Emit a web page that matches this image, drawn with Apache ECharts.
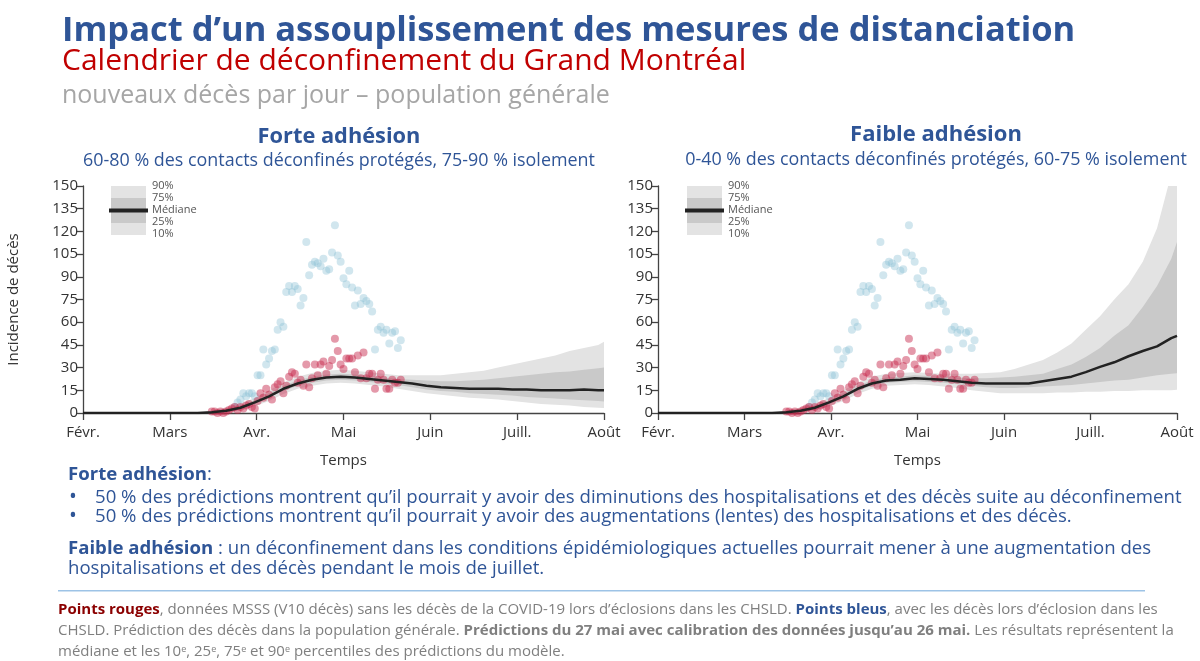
<!DOCTYPE html>
<html><head><meta charset="utf-8">
<script src="https://cdn.jsdelivr.net/npm/echarts@6/dist/echarts.min.js"></script>
<style>html,body{margin:0;padding:0;background:#fff}#c{width:1200px;height:661px}</style>
</head><body><div id="c"></div>
<script>
// ---- tick labels (x in days since Feb 1, 2020) ----
const monthLabels = ['Févr.', 'Mars', 'Avr.', 'Mai', 'Juin', 'Juill.', 'Août'];
const yTicks = [0, 15, 30, 45, 60, 75, 90, 105, 120, 135, 150];

// ---- observed points (same in both panels) ----
const redStartDay = 45;
const redValues = [1, 1, 0, 1, 0, 1, 2, 3, 4, 2, 4, 3, 5, 6, 4, 3, 8, 13, 10, 16, 12, 9, 17, 19, 21, 13, 18, 24, 27, 26,
  20, 22, 18, 32, 17, 23, 32, 25, 32, 34, 26, 31, 35, 49, 41, 32, 29, 36, 36, 36, 27, 38, 23, 40, 23, 26, 26, 16, 22, 26,
  22, 16, 16, 22, 20, 20, 22];
const blueStartDay = 53;
const blueValues = [4, 7, 9, 13, 11, 13, 13, 11, 25, 25, 42, 32, 36, 41, 42, 55, 60, 57, 80, 84, 80, 84, 82, 71, 76, 113,
  91, 98, 100, 99, 97, 102, 94, 95, 106, 124, 104, 100, 89, 85, 94, 83, 71, 81, 72, 76, 74, 72, 67, 42, 55, 57, 53, 55,
  46, 53, 54, 43, 48];

// ---- model predictions (sampled days) ----
const predDays = [0, 40, 45, 50, 55, 60, 65, 70, 75, 80, 85, 90, 95, 100, 105, 110, 115, 120, 125, 130, 135, 140, 145, 150, 155, 160, 165, 170, 175, 180, 182];

// Forte adhésion
const forteMedian = [0, 0, 0.5, 1.5, 3.5, 7, 11, 16, 19.5, 22, 23.5, 24, 23.5, 22.5, 21.5, 20.5, 19.5, 18, 17, 16.5, 16, 16, 16, 15.5, 15.5, 15, 15, 15, 15.5, 15, 15];
const forteP10 = [0, 0, 0, 0.5, 2, 4.5, 8, 12.5, 16, 18, 19.5, 20, 19.5, 18.5, 17.5, 16, 14.5, 13, 12, 11, 10, 9.5, 9, 8, 7, 6, 5.5, 5, 4, 3.5, 3.3];
const forteP25 = [0, 0, 0.2, 1, 2.8, 6, 10, 14.5, 18, 20, 21.5, 22, 21.5, 20.5, 19.5, 18.5, 17, 15.5, 14.5, 14, 13, 12.5, 12, 11.5, 10.5, 10, 9.5, 9, 8.5, 8, 7.6];
const forteP75 = [0, 0, 1, 2.5, 4.5, 8.5, 13, 18, 21.5, 24, 25.5, 26, 25.5, 24.5, 23.5, 22.5, 22, 21.5, 21, 21, 21.5, 22, 23, 24, 25, 26, 27, 27.5, 28.5, 29.5, 30];
const forteP90 = [0, 0, 1.5, 3.5, 6, 10, 15, 20, 24, 26.5, 28, 28.5, 28, 27, 26, 25, 25, 25, 25, 26, 27, 28, 30, 32, 34, 36, 38, 41, 43, 45, 47];

// Faible adhésion
const faibleMedian = [0, 0, 0.5, 1.5, 3.5, 7, 11, 16, 19.5, 21.5, 22, 23, 22.5, 22, 21, 20, 19.5, 19.5, 19.5, 19.5, 21, 22.5, 24, 27, 30.5, 33.5, 37.5, 41, 44, 49.5, 51];
const faibleP10 = [0, 0, 0, 0.5, 2, 4.5, 8, 12.5, 16, 18, 18.5, 19, 18.5, 17.5, 16.5, 15, 14, 13, 13, 13, 13, 13.5, 13.5, 14, 14, 14.5, 14.5, 15, 15, 15, 15.3];
const faibleP25 = [0, 0, 0.2, 1, 2.8, 6, 10, 14.5, 18, 20, 20.5, 21, 20.5, 20, 19, 18, 17, 16.5, 16.5, 17, 17.5, 18, 18.5, 19.5, 20.5, 21.5, 22, 23.5, 25, 26, 26.3];
const faibleP75 = [0, 0, 1, 2.5, 4.5, 8.5, 13, 18, 21.5, 23.5, 24, 25, 24.5, 24, 23.5, 23, 23, 23.5, 24, 25, 26, 29, 32, 37, 43, 51, 58, 70, 84, 102, 113];
const faibleP90 = [0, 0, 1.5, 3.5, 6, 10, 15, 20, 24, 26, 26.5, 27, 26.5, 26, 26, 26, 26.5, 27, 29, 32, 35, 40, 46, 55, 64, 75, 85, 100, 122, 158, 170];

// ---- colours / styles ----
const BLUE = '#2f5597';
const RED_TITLE = '#c00000';
const FONT = '"Open Sans", Lato, sans-serif';
const LIGHT_BAND = '#e3e3e3';
const DARK_BAND = '#c9c9c9';

const pairs = (xs, ys) => xs.map((x, i) => [x, ys[i]]);
const obs = (start, vals) => vals.map((v, i) => [start + i, v]);

function bandSeries(idx, lo, hi, color, z) {
  return {
    type: 'custom', xAxisIndex: idx, yAxisIndex: idx, clip: true, silent: true, z: z, animation: false,
    data: predDays.map((d, i) => [d, lo[i], hi[i]]),
    encode: {x: 0, y: [1, 2]},
    renderItem: function (params, api) {
      if (params.dataIndex !== 0) return null;
      const pts = [];
      for (let i = 0; i < predDays.length; i++) pts.push(api.coord([predDays[i], lo[i]]));
      for (let i = predDays.length - 1; i >= 0; i--) pts.push(api.coord([predDays[i], hi[i]]));
      return {type: 'polygon', shape: {points: pts}, style: {fill: color}};
    }
  };
}

function panelSeries(idx, med, p10, p25, p75, p90) {
  return [
    bandSeries(idx, p10, p90, LIGHT_BAND, 1),
    bandSeries(idx, p25, p75, DARK_BAND, 2),
    {type: 'scatter', xAxisIndex: idx, yAxisIndex: idx, data: obs(blueStartDay, blueValues), symbolSize: 8,
      itemStyle: {color: 'rgba(140,192,212,0.5)'}, z: 3, animation: false, silent: true},
    {type: 'scatter', xAxisIndex: idx, yAxisIndex: idx, data: obs(redStartDay, redValues), symbolSize: 8,
      itemStyle: {color: 'rgba(198,42,78,0.6)'}, z: 4, animation: false, silent: true},
    {type: 'line', xAxisIndex: idx, yAxisIndex: idx, symbol: 'none', silent: true, animation: false,
      data: pairs(predDays, med), lineStyle: {color: '#222', width: 2.5}, z: 5}
  ];
}

function xAxisDef(idx) {
  return {
    type: 'value', gridIndex: idx, min: 0, max: 182, interval: 182 / 6,
    name: 'Temps', nameLocation: 'middle', nameGap: 40,
    nameTextStyle: {fontFamily: FONT, fontSize: 15, color: '#333'},
    axisLine: {show: true, onZero: false, lineStyle: {color: '#444', width: 1.3}},
    axisTick: {show: true, length: 7, lineStyle: {color: '#444', width: 1.3}},
    axisLabel: {fontFamily: FONT, fontSize: 15, color: '#333', margin: 12,
      formatter: v => monthLabels[Math.round(v / (182 / 6))] || ''},
    splitLine: {show: false}
  };
}
function yAxisDef(idx, withName) {
  return {
    type: 'value', gridIndex: idx, min: yTicks[0], max: yTicks[yTicks.length - 1], interval: 15,
    name: withName ? 'Incidence de décès' : '', nameLocation: 'middle', nameGap: 62, nameRotate: 90,
    nameTextStyle: {fontFamily: FONT, fontSize: 15, color: '#333'},
    axisLine: {show: true, lineStyle: {color: '#444', width: 1.3}},
    axisTick: {show: true, length: 7, lineStyle: {color: '#444', width: 1.3}},
    axisLabel: {fontFamily: FONT, fontSize: 15, color: '#333', margin: 5},
    splitLine: {show: false}
  };
}

function legendBox(x0) {
  const t = (txt, y) => ({type: 'text', x: x0 + 41, y: y,
    style: {text: txt, fontFamily: FONT, fontSize: 11, fill: '#555', verticalAlign: 'middle'}});
  return [
    {type: 'rect', shape: {x: x0, y: 186, width: 35, height: 49}, style: {fill: LIGHT_BAND}},
    {type: 'rect', shape: {x: x0, y: 198, width: 35, height: 25}, style: {fill: DARK_BAND}},
    {type: 'rect', shape: {x: x0 - 2, y: 208.5, width: 39, height: 4}, style: {fill: '#222'}},
    t('90%', 186), t('75%', 198), t('Médiane', 210), t('25%', 222), t('10%', 234)
  ];
}

function txt(x, y, text, size, color, weight, align) {
  return {type: 'text', x: x, y: y, style: {text: text, fontFamily: FONT, fontSize: size, fill: color,
    fontWeight: weight || 'normal', align: align || 'left', verticalAlign: 'middle'}};
}
function rich(x, y, text, size, color, richDef) {
  return {type: 'text', x: x, y: y, style: {text: text, fontFamily: FONT, fontSize: size, fill: color,
    align: 'left', verticalAlign: 'middle', rich: richDef}};
}

const FN = 15;
const footRich = {
  r: {fontFamily: FONT, fontSize: FN, fontWeight: 'bold', fill: '#8b0000', color: '#8b0000'},
  b: {fontFamily: FONT, fontSize: FN, fontWeight: 'bold', fill: BLUE, color: BLUE},
  g: {fontFamily: FONT, fontSize: FN, fontWeight: 'bold', fill: '#7f7f7f', color: '#7f7f7f'},
  s: {fontFamily: FONT, fontSize: 9, fill: '#7f7f7f', color: '#7f7f7f', verticalAlign: 'top', padding: [0, 0, 6, 0]}
};
const BODY = 18.6;
const bodyRich = {
  h: {fontFamily: FONT, fontSize: BODY, fontWeight: 'bold', fill: BLUE, color: BLUE}
};

const option = {
  backgroundColor: '#fff',
  animation: false,
  grid: [
    {left: 83, top: 186, width: 521, height: 227},
    {left: 658, top: 186, width: 519, height: 227}
  ],
  xAxis: [xAxisDef(0), xAxisDef(1)],
  yAxis: [yAxisDef(0, true), yAxisDef(1, false)],
  series: [
    ...panelSeries(0, forteMedian, forteP10, forteP25, forteP75, forteP90),
    ...panelSeries(1, faibleMedian, faibleP10, faibleP25, faibleP75, faibleP90)
  ],
  graphic: [
    txt(62, 31, 'Impact d\u2019un assouplissement des mesures de distanciation', 34.5, BLUE, 'bold'),
    txt(62, 61, 'Calendrier de déconfinement du Grand Montréal', 30, RED_TITLE),
    txt(62, 96, 'nouveaux décès par jour – population générale', 25, '#a6a6a6'),
    txt(339, 137, 'Forte adhésion', 21.8, BLUE, 'bold', 'center'),
    txt(339, 161, '60-80 % des contacts déconfinés protégés, 75-90 % isolement', 17.9, BLUE, 'normal', 'center'),
    txt(936, 135, 'Faible adhésion', 22, BLUE, 'bold', 'center'),
    txt(936, 160, '0-40 % des contacts déconfinés protégés, 60-75 % isolement', 17.9, BLUE, 'normal', 'center'),
    ...legendBox(111),
    ...legendBox(687),
    rich(68, 475, '{h|Forte adhésion}:', BODY, BLUE, bodyRich),
    txt(69, 497, '•', 21, BLUE),
    txt(95, 498, '50 % des prédictions montrent qu\u2019il pourrait y avoir des diminutions des hospitalisations et des décès suite au déconfinement', BODY, BLUE),
    txt(69, 516, '•', 21, BLUE),
    txt(95, 517, '50 % des prédictions montrent qu\u2019il pourrait y avoir des augmentations (lentes) des hospitalisations et des décès.', BODY, BLUE),
    rich(68, 549, '{h|Faible adhésion} : un déconfinement dans les conditions épidémiologiques actuelles pourrait mener à une augmentation des', BODY, BLUE, bodyRich),
    txt(68, 569, 'hospitalisations et des décès pendant le mois de juillet.', BODY, BLUE),
    {type: 'rect', shape: {x: 58, y: 590, width: 1087, height: 1.6}, style: {fill: '#9dc3e6'}},
    rich(58, 610, '{r|Points rouges}, données MSSS (V10 décès) sans les décès de la COVID-19 lors d\u2019éclosions dans les CHSLD. {b|Points bleus}, avec les décès lors d\u2019éclosion dans les', FN, '#7f7f7f', footRich),
    rich(58, 631, 'CHSLD. Prédiction des décès dans la population générale. {g|Prédictions du 27 mai avec calibration des données jusqu\u2019au 26 mai.} Les résultats représentent la', FN, '#7f7f7f', footRich),
    rich(58, 652, 'médiane et les 10{s|e}, 25{s|e}, 75{s|e} et 90{s|e} percentiles des prédictions du modèle.', FN, '#7f7f7f', footRich)
  ]
};

const chart = echarts.init(document.getElementById('c'), null, {renderer: 'canvas'});
chart.setOption(option);
</script></body></html>
